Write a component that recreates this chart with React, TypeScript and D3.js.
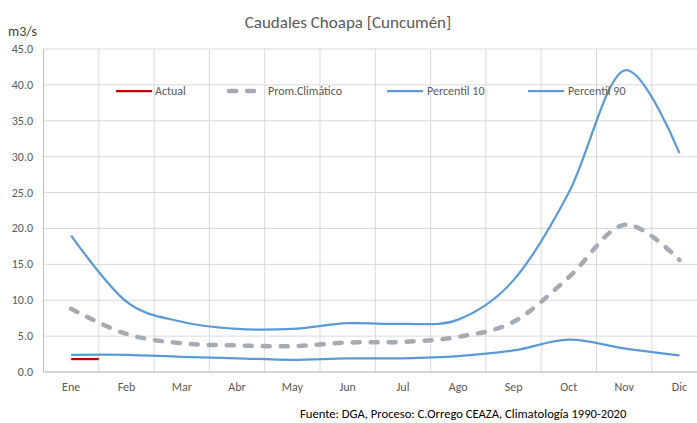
import React from "react";
import * as d3 from "d3";

const months = ["Ene", "Feb", "Mar", "Abr", "May", "Jun", "Jul", "Ago", "Sep", "Oct", "Nov", "Dic"];
const percentil90 = [19.0, 9.8, 7.0, 6.0, 6.0, 6.8, 6.7, 7.3, 12.8, 25.0, 42.0, 30.5];
const promClimatico = [8.8, 5.3, 4.0, 3.7, 3.6, 4.1, 4.2, 4.9, 7.0, 13.2, 20.5, 15.6];
const percentil10 = [2.4, 2.4, 2.1, 1.9, 1.7, 1.9, 1.9, 2.2, 3.0, 4.5, 3.3, 2.3];
const actualPos = [0, 0.5];
const actualValues = [1.8, 1.8];
const yTicks = [0, 5, 10, 15, 20, 25, 30, 35, 40, 45];

const W = 697;
const H = 423;
const left = 43.5;
const bandW = 55.3;
const top = 49;
const bottom = 372;

export default function App() {
  const x = d3.scaleLinear().domain([0, 12]).range([left, left + bandW * 12]);
  const y = d3.scaleLinear().domain([0, 45]).range([bottom, top]);
  const cx = (i: number) => x(i + 0.5);
  const line = d3
    .line<number>()
    .x((_, i) => cx(i))
    .y((d) => y(d))
    .curve(d3.curveCardinal.tension(0));
  const actualLine = d3
    .line<number>()
    .x((_, i) => cx(actualPos[i]))
    .y((d) => y(d));
  const font = "Calibri, Carlito, 'Liberation Sans', Arial, sans-serif";
  const textCol = "#595959";
  const blue = "#5B9BD5";
  const gray = "#A5ABB5";
  const legend = [
    { label: "Actual", x1: 116, color: "#C00000", w: 2.25, dash: undefined as string | undefined, tx: 155 },
    { label: "Prom.Climático", x1: 229, color: gray, w: 4.5, dash: "7 11", tx: 268 },
    { label: "Percentil 10", x1: 387, color: blue, w: 2.25, dash: undefined, tx: 427 },
    { label: "Percentil 90", x1: 528, color: blue, w: 2.25, dash: undefined, tx: 568 },
  ];
  return (
    <svg width={W} height={H} style={{ position: "absolute", left: 0, top: 0, background: "#fff" }}>
      <rect width={W} height={H} fill="#fff" />
      <text x={348} y={28} textAnchor="middle" fontFamily={font} fontSize={17} fill={textCol}>
        Caudales Choapa [Cuncumén]
      </text>
      <text x={8} y={36} fontFamily={font} fontSize={14} fill="#404040">
        m3/s
      </text>
      {yTicks.map((t) => (
        <g key={t}>
          <line x1={left} x2={W} y1={y(t)} y2={y(t)} stroke="#D9D9D9" strokeWidth={1} />
          <text x={33} y={y(t) + 4} textAnchor="end" fontFamily={font} fontSize={12} fill={textCol}>
            {t.toFixed(1)}
          </text>
        </g>
      ))}
      {d3.range(0, 13).map((i) => (
        <line key={i} x1={x(i)} x2={x(i)} y1={top} y2={bottom} stroke="#D9D9D9" strokeWidth={1} />
      ))}
      <line x1={left} x2={left} y1={top} y2={bottom} stroke="#BFBFBF" />
      <line x1={left} x2={W} y1={bottom} y2={bottom} stroke="#BFBFBF" />
      {months.map((m, i) => (
        <text key={m} x={cx(i)} y={391} textAnchor="middle" fontFamily={font} fontSize={12} fill={textCol}>
          {m}
        </text>
      ))}
      <path d={line(promClimatico) || ""} fill="none" stroke={gray} strokeWidth={4.5} strokeDasharray="7 11" strokeLinecap="round" />
      <path d={line(percentil10) || ""} fill="none" stroke={blue} strokeWidth={2.25} />
      <path d={line(percentil90) || ""} fill="none" stroke={blue} strokeWidth={2.25} />
      <path d={actualLine(actualValues) || ""} fill="none" stroke="#C00000" strokeWidth={2.25} />
      {legend.map((l) => (
        <g key={l.label}>
          <line x1={l.x1} x2={l.x1 + 36} y1={91} y2={91} stroke={l.color} strokeWidth={l.w} strokeDasharray={l.dash} strokeLinecap={l.dash ? "round" : "butt"} />
          <text x={l.tx} y={95} fontFamily={font} fontSize={12} fill={textCol}>
            {l.label}
          </text>
        </g>
      ))}
      <text x={300} y={418} fontFamily={font} fontSize={12.6} fill="#000">
        Fuente: DGA, Proceso: C.Orrego CEAZA, Climatología 1990-2020
      </text>
    </svg>
  );
}
